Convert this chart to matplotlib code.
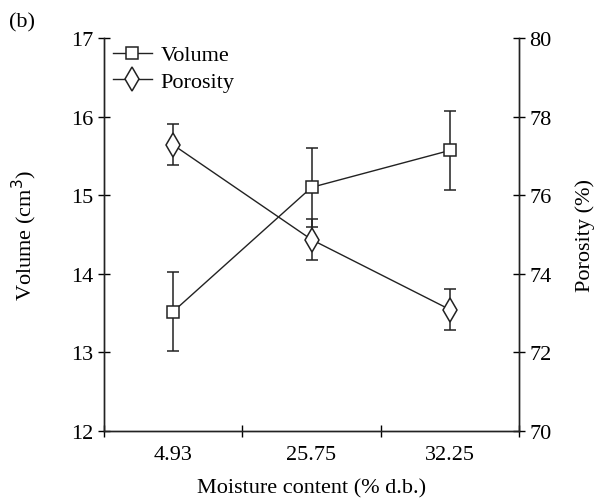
import numpy as np
import matplotlib
matplotlib.use('Agg')
import matplotlib.pyplot as plt
from matplotlib.lines import Line2D

plt.rcParams['font.family'] = 'Liberation Serif'

# data
moisture = ['4.93', '25.75', '32.25']
volume = [13.52, 15.10, 15.57]
volume_err = [0.50, 0.50, 0.50]
porosity = [77.28, 74.87, 73.09]
porosity_err = [0.52, 0.52, 0.52]

x = np.arange(len(moisture))
fs = 16
ink = '#222222'

fig = plt.figure(figsize=(5.98, 5.02), dpi=100)
ax = fig.add_axes([0.174, 0.1394, 0.694, 0.7829])
ax2 = ax.twinx()

ax.errorbar(x, volume, yerr=volume_err, color=ink, lw=1.0,
            marker='s', ms=8.5, mfc='white', mec=ink, mew=1.1,
            capsize=4.3, elinewidth=1.1, capthick=1.1)
ax2.errorbar(x, porosity, yerr=porosity_err, color=ink, lw=1.0,
             marker='d', ms=12, mfc='white', mec=ink, mew=1.1,
             capsize=4.3, elinewidth=1.1, capthick=1.1)

ax.set_xlim(-0.5, 2.5)
ax.set_ylim(12, 17)
ax2.set_ylim(70, 80)
ax.set_yticks([12, 13, 14, 15, 16, 17])
ax2.set_yticks([70, 72, 74, 76, 78, 80])

# category labels sit between the tick marks
ax.set_xticks([-0.5, 0.5, 1.5, 2.5])
ax.set_xticklabels([])
ax.set_xticks(x, minor=True)
ax.set_xticklabels(moisture, minor=True)
ax.tick_params(axis='x', which='minor', length=0, pad=10, labelsize=fs)
ax.tick_params(axis='x', which='major', direction='inout', length=9, width=1.0)
ax.tick_params(axis='y', direction='inout', length=9, width=1.0, labelsize=fs, pad=3)
ax2.tick_params(axis='y', direction='inout', length=9, width=1.0, labelsize=fs, pad=3)

for a in (ax, ax2):
    a.spines['top'].set_visible(False)
    for s in ('left', 'right', 'bottom'):
        a.spines[s].set_linewidth(1.0)
        a.spines[s].set_color(ink)

ax.set_xlabel('Moisture content (% d.b.)', fontsize=fs, labelpad=10)
ax.set_ylabel('Volume (cm$^3$)', fontsize=fs, labelpad=23)
ax2.set_ylabel('Porosity (%)', fontsize=fs, labelpad=17)

handles = [Line2D([], [], color=ink, lw=1.0, marker='s', ms=8.5, mfc='white',
                  mec=ink, mew=1.1),
           Line2D([], [], color=ink, lw=1.0, marker='d', ms=12, mfc='white',
                  mec=ink, mew=1.1)]
ax.legend(handles, ['Volume', 'Porosity'], loc='upper left',
          frameon=False, fontsize=fs, handlelength=1.75,
          handletextpad=0.4, borderaxespad=0.0, labelspacing=0.25,
          bbox_to_anchor=(0.0, 1.005))

fig.text(0.015, 0.955, '(b)', fontsize=fs, va='center')

fig.savefig('out.png', dpi=100)
